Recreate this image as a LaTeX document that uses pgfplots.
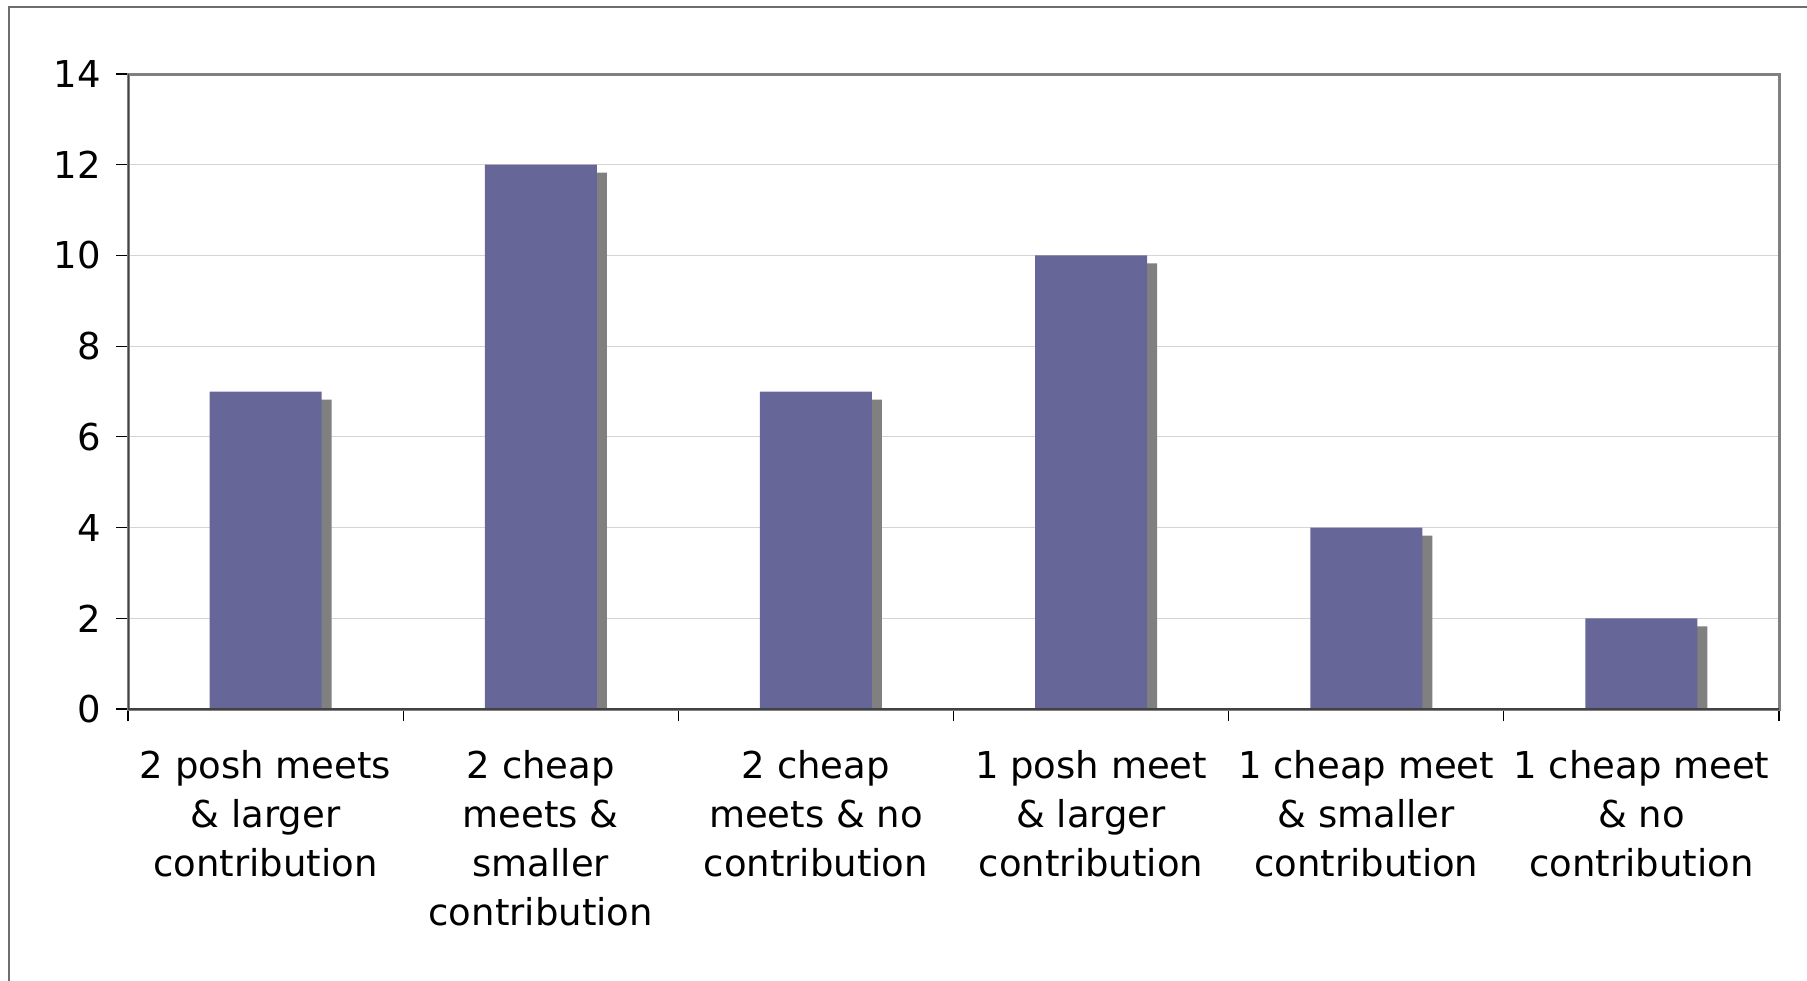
\documentclass[border=0pt]{standalone}
\usepackage{fontspec}
\setmainfont{DejaVu Sans}
\usepackage{pgfplots}
\pgfplotsset{compat=1.18}
\definecolor{barfill}{HTML}{666699}
\definecolor{shadowgray}{HTML}{808080}
\definecolor{gridgray}{HTML}{D4D4D4}
\definecolor{framegray}{HTML}{6E6E6E}

\pgfplotstableread{
x v
0 7
1 12
2 7
3 10
4 4
5 2
}\meetdata

\begin{document}
\begin{tikzpicture}
% chart area frame
\draw[line width=1pt, framegray] (4.6pt,-492pt) -- (4.6pt,-3.4pt) -- (905pt,-3.4pt);
\begin{axis}[
  at={(64pt,-354.5pt)}, anchor=south west,
  scale only axis, width=825.5pt, height=317.5pt,
  xmin=-0.5, xmax=5.5, ymin=0, ymax=14,
  ytick={0,2,...,14},
  xtick={0,...,5},
  xticklabels={
    {2 posh meets\\\& larger\\contribution},
    {2 cheap\\meets \&\\smaller\\contribution},
    {2 cheap\\meets \& no\\contribution},
    {1 posh meet\\\& larger\\contribution},
    {1 cheap meet\\\& smaller\\contribution},
    {1 cheap meet\\\& no\\contribution}},
  minor xtick={-0.5,0.5,...,5.5},
  major x tick style={draw=none},
  minor tick length=6pt,
  major tick length=6pt,
  tick align=outside,
  xtick pos=bottom, ytick pos=left,
  tick style={black, line width=0.6pt},
  ymajorgrids, grid style={gridgray, line width=0.6pt},
  axis line style={shadowgray, line width=1.5pt},
  /pgf/number format/assume math mode=true,
  tick label style={font=\fontsize{18.5}{24.5}\selectfont},
  xticklabel style={align=center, anchor=north, yshift=-11pt},
  yticklabel style={xshift=-4pt},
]
\addplot[ybar, bar width=56pt, bar shift=5pt, fill=shadowgray, draw=none, yshift=-4pt]
  table[x=x, y=v] {\meetdata};
\addplot[ybar, bar width=56pt, bar shift=0pt, fill=barfill, draw=none]
  table[x=x, y=v] {\meetdata};
\draw[framegray!60!black, line width=0.8pt] (rel axis cs:0,1) -- (rel axis cs:0,0) -- (rel axis cs:1,0);
\end{axis}
\pgfresetboundingbox
\path[use as bounding box] (0,0) rectangle (903.5pt,-490pt);
\end{tikzpicture}
\end{document}
